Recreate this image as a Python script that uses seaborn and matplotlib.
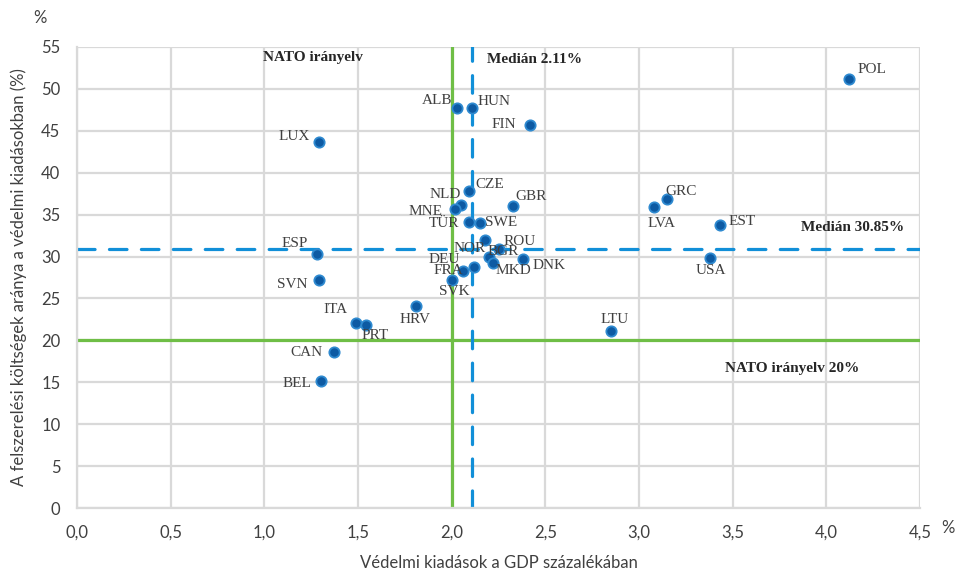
import pandas as pd
import seaborn as sns
import matplotlib.pyplot as plt

# Adatok: országkód, védelmi kiadás (GDP %), felszerelési arány (%)
orszagok = ["POL", "ALB", "HUN", "FIN", "LUX", "CZE", "NLD", "MNE", "TÜR", "SWE",
            "GBR", "NOR", "ROU", "BGR", "MKD", "DNK", "DEU", "FRA", "SVK", "ESP",
            "SVN", "ITA", "PRT", "HRV", "CAN", "BEL", "LTU", "LVA", "GRC", "EST", "USA"]
gdp_arany = [4.12, 2.03, 2.11, 2.42, 1.29, 2.09, 2.05, 2.02, 2.09, 2.15,
             2.33, 2.18, 2.25, 2.20, 2.22, 2.38, 2.12, 2.06, 2.00, 1.28,
             1.29, 1.49, 1.54, 1.81, 1.37, 1.30, 2.85, 3.08, 3.15, 3.43, 3.38]
felszereles = [51.2, 47.7, 47.7, 45.7, 43.7, 37.8, 36.2, 35.7, 34.1, 34.0,
               36.0, 32.0, 30.9, 30.0, 29.2, 29.7, 28.8, 28.3, 27.2, 30.3,
               27.2, 22.1, 21.8, 24.1, 18.6, 15.2, 21.1, 35.9, 36.9, 33.8, 29.8]

median_x = 2.11
median_y = 30.85
nato_x = 2.0
nato_y = 20

# címkék eltolása pixelben (dx, dy)
cimke_eltolas = {
    "POL": (23, 9), "ALB": (-20, 8), "HUN": (22, 7), "FIN": (-27, 0),
    "LUX": (-24, 5), "CZE": (21, 7), "NLD": (-16, 10), "MNE": (-30, -3),
    "TÜR": (-25, -1), "SWE": (21, 1), "GBR": (18, 10), "NOR": (-16, -9),
    "ROU": (21, 8), "BGR": (14, 5), "MKD": (21, -7), "DNK": (26, -6),
    "DEU": (-30, 7), "FRA": (-15, 0), "SVK": (3, -11), "ESP": (-22, 11),
    "SVN": (-26, -4), "ITA": (-21, 13), "PRT": (10, -10), "HRV": (-1, -13),
    "CAN": (-27, 0), "BEL": (-24, -3), "LTU": (4, 12), "LVA": (8, -16),
    "GRC": (14, 7), "EST": (23, 3), "USA": (1, -12),
}

df = pd.DataFrame({"orszag": orszagok, "gdp": gdp_arany, "felsz": felszereles})

sns.set_style("white")
plt.rcParams["font.family"] = ["Lato", "DejaVu Sans"]

fig = plt.figure(figsize=(9.57, 5.73), dpi=100)
ax = fig.add_axes([0.0805, 0.1134, 0.8808, 0.8046])

zold = "#6fbe46"
kek = "#118fd8"

ax.axvline(nato_x, color=zold, lw=2.3, zorder=2)
ax.axhline(nato_y, color=zold, lw=2.3, zorder=2)
ax.axvline(median_x, color=kek, lw=2.3, ls=(0, (5.5, 4.5)), dash_capstyle="round", zorder=2)
ax.axhline(median_y, color=kek, lw=2.3, ls=(0, (5.5, 4.5)), dash_capstyle="round", zorder=2)

sns.scatterplot(data=df, x="gdp", y="felsz", ax=ax, s=55, color="#0d5aa3",
                edgecolor="#2f8ad0", linewidth=1.3, zorder=4)

for _, r in df.iterrows():
    dx, dy = cimke_eltolas[r["orszag"]]
    ax.annotate(r["orszag"], (r["gdp"], r["felsz"]), xytext=(dx, dy),
                textcoords="offset pixels", ha="center", va="center",
                fontsize=11, family="Liberation Serif", color="#404040", zorder=5)

felirat = dict(fontsize=11, family="Liberation Serif", fontweight="bold",
               color="#262626", ha="center", va="center", zorder=5)
ax.text(1.26, 53.7, "NATO irányelv", **felirat)
ax.text(2.44, 53.5, "Medián 2.11%", **felirat)
ax.text(4.14, 33.5, "Medián 30.85%", **felirat)
ax.text(3.82, 16.7, "NATO irányelv 20%", **felirat)

ax.set_xlim(0, 4.5)
ax.set_ylim(0, 55)
xt = [i * 0.5 for i in range(10)]
ax.set_xticks(xt)
ax.set_xticklabels([f"{v:.1f}".replace(".", ",") for v in xt])
ax.set_yticks(range(0, 56, 5))
ax.grid(True, color="#d9d9d9", lw=1.6, zorder=0)
ax.set_axisbelow(True)
for s in ["top", "right"]:
    ax.spines[s].set_visible(False)
for s in ["left", "bottom"]:
    ax.spines[s].set_color("#d9d9d9")
    ax.spines[s].set_linewidth(1.6)
ax.tick_params(axis="both", length=0, labelsize=12, colors="#404040")
ax.tick_params(axis="x", pad=12)
ax.tick_params(axis="y", pad=12)

ax.set_xlabel("Védelmi kiadások a GDP százalékában", fontsize=12, color="#404040", labelpad=10)
ax.set_ylabel("A felszerelési költségek aránya a védelmi kiadásokban (%)", fontsize=12,
              color="#404040", labelpad=10)

fig.text(40 / 957, 1 - 18 / 573, "%", fontsize=12, color="#404040", ha="center", va="center")
fig.text(948 / 957, 1 - 528 / 573, "%", fontsize=12, color="#404040", ha="center", va="center")

plt.savefig("out.png", dpi=100)
